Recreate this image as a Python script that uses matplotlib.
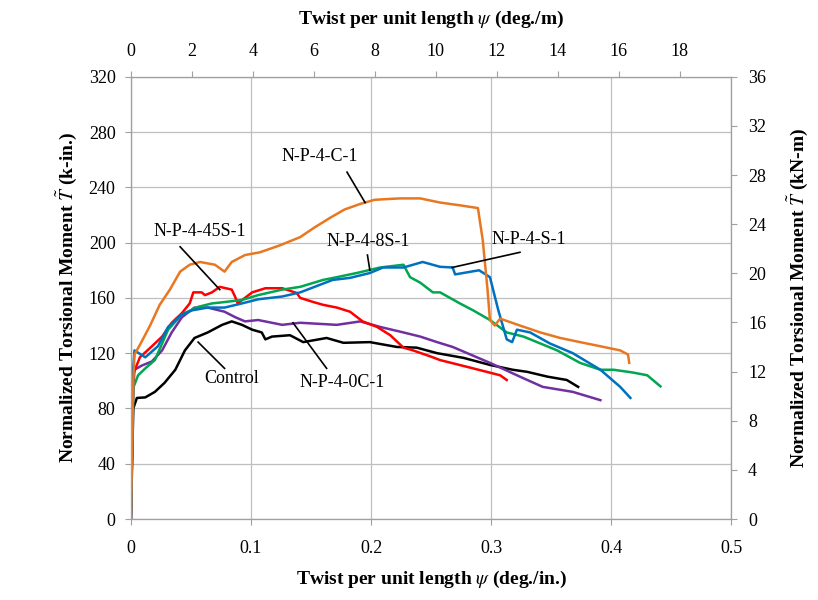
import matplotlib
matplotlib.use("Agg")
import matplotlib.pyplot as plt

# ─── Data (twist deg./in., normalized moment k-in.) ───────────────────────────

c1_x = [0, 0.002, 0.003, 0.0075, 0.016, 0.024, 0.0325, 0.041, 0.049, 0.0575, 0.07, 0.078,
        0.084, 0.095, 0.1075, 0.124, 0.141, 0.153, 0.166, 0.178, 0.191, 0.203, 0.224,
        0.241, 0.2575, 0.274, 0.289, 0.293, 0.297, 0.299, 0.303, 0.3075, 0.324, 0.341,
        0.3575, 0.374, 0.391, 0.4075, 0.414, 0.415]
c1_y = [0, 100, 119, 126, 140, 155, 166, 179, 184, 186, 184, 179,
        186, 191, 193, 198, 204, 211, 218, 224, 228, 231, 232,
        232, 229, 227, 225, 202, 166, 144, 140, 145, 140, 135,
        131, 128, 125, 122, 119, 113]

s1_x = [0, 0.002, 0.003, 0.012, 0.0225, 0.031, 0.0425, 0.051, 0.064, 0.078, 0.0925, 0.106,
        0.126, 0.141, 0.168, 0.1825, 0.199, 0.21, 0.227, 0.243, 0.2575, 0.268, 0.27,
        0.29, 0.299, 0.306, 0.313, 0.3175, 0.3215, 0.3325, 0.349, 0.368, 0.391, 0.4075,
        0.416]
s1_y = [0, 110, 122, 117, 125, 139, 148, 151, 153, 153, 156, 159,
        161, 164, 173, 174.5, 178, 182, 182, 186, 182.5, 182, 177,
        180, 175, 151, 130, 128, 137, 135, 127, 120, 108, 95.6,
        87.6]

s8_x = [0, 0.002, 0.006, 0.012, 0.02, 0.031, 0.0425, 0.056, 0.0675, 0.078, 0.0925, 0.106,
        0.126, 0.141, 0.16, 0.1715, 0.188, 0.2075, 0.227, 0.2325, 0.241, 0.2515, 0.2575,
        0.274, 0.285, 0.299, 0.313, 0.327, 0.341, 0.355, 0.374, 0.391, 0.402, 0.418,
        0.43, 0.441]
s8_y = [0, 95, 104, 109, 115, 137, 148, 153.5, 156, 157, 158.5, 162,
        166, 168, 173, 175, 178, 182, 184, 175, 171, 164, 164,
        156, 151, 144, 135, 132, 127, 122, 113, 108, 108, 106,
        104, 96]

s45_x = [0, 0.002, 0.0075, 0.0175, 0.026, 0.034, 0.0425, 0.049, 0.052, 0.059, 0.0617, 0.0675,
         0.074, 0.084, 0.0867, 0.089, 0.101, 0.112, 0.126, 0.138, 0.141, 0.152, 0.16,
         0.1715, 0.1825, 0.193, 0.205, 0.216, 0.227, 0.235, 0.2515, 0.2575, 0.285, 0.3075,
         0.313]
s45_y = [0, 105, 117, 125, 132, 142, 149, 156, 164, 164, 162, 164,
         168, 166, 161, 156, 164, 167, 167, 163.6, 160, 157, 155,
         153, 150, 143, 139, 133, 124, 122, 117, 115, 109, 104,
         100.6]

c0_x = [0, 0.002, 0.003, 0.009, 0.0175, 0.026, 0.034, 0.0425, 0.053, 0.064, 0.078, 0.087,
        0.095, 0.106, 0.126, 0.141, 0.1715, 0.191, 0.2075, 0.227, 0.241, 0.255, 0.268,
        0.299, 0.324, 0.343, 0.368, 0.391]
c0_y = [0, 95, 108, 111, 114, 122, 135, 146, 153, 153, 150, 146,
        143, 144, 140.5, 142, 140.5, 143, 139, 135, 132, 128, 124.5,
        113, 103, 95.6, 92, 86]

ctl_x = [0, 0.002, 0.005, 0.012, 0.02, 0.028, 0.037, 0.045, 0.053, 0.064, 0.076, 0.084,
         0.0925, 0.101, 0.109, 0.112, 0.1175, 0.1325, 0.1435, 0.163, 0.177, 0.199, 0.2215,
         0.238, 0.255, 0.277, 0.299, 0.318, 0.33, 0.347, 0.363, 0.3725]
ctl_y = [0, 80, 87.6, 88, 92, 98.5, 108, 122, 131, 135, 140.5, 143,
         140.5, 137, 135, 130, 132, 133, 128, 131, 127.5, 128, 124.5,
         124, 120, 116.6, 111.5, 108, 106.5, 103, 100.6, 95.6]

series = [
    (ctl_x, ctl_y, "#000000"),
    (c0_x,  c0_y,  "#7030A0"),
    (s45_x, s45_y, "#FF0000"),
    (s8_x,  s8_y,  "#00A650"),
    (s1_x,  s1_y,  "#0070C0"),
    (c1_x,  c1_y,  "#E87722"),
]

# label text, text position, leader start, leader end
labels = [
    ("N-P-4-C-1",   (0.1575, 262), (0.180, 251), (0.195, 229)),
    ("N-P-4-45S-1", (0.0575, 208), (0.041, 197), (0.074, 166)),
    ("N-P-4-8S-1",  (0.1975, 200.5), (0.197, 191), (0.199, 180)),
    ("N-P-4-S-1",   (0.331, 202),  (0.324, 193), (0.2675, 182)),
    ("Control",     (0.084, 102),  (0.078, 109), (0.056, 128)),
    ("N-P-4-0C-1",  (0.176, 98.5), (0.163, 109), (0.135, 142)),
]

IN_PER_M = 39.37

# ─── Figure ───────────────────────────────────────────────────────────────────

plt.rcParams["font.family"] = "Liberation Serif"
plt.rcParams["mathtext.fontset"] = "stix"

fig = plt.figure(figsize=(8.18, 6.0), dpi=100)
ax = fig.add_axes([0.160, 0.135, 0.734, 0.737])

for x, y, col in series:
    ax.plot(x, y, color=col, lw=1.8, zorder=3)

for txt, tpos, p0, p1 in labels:
    ax.text(tpos[0], tpos[1], txt, ha="center", va="center", fontsize=13, zorder=5)
    ax.plot([p0[0], p1[0]], [p0[1], p1[1]], color="black", lw=1.2, zorder=4)

ax.set_xlim(0, 0.5)
ax.set_ylim(0, 320)
ax.set_xticks([0, 0.1, 0.2, 0.3, 0.4, 0.5])
ax.set_xticklabels(["0", "0.1", "0.2", "0.3", "0.4", "0.5"])
ax.set_yticks(range(0, 321, 40))
ax.grid(True, color="#BFBFBF", lw=0.9, zorder=0)
ax.set_axisbelow(True)
for sp in ax.spines.values():
    sp.set_color("#A0A0A0")
ax.tick_params(axis="both", labelsize=13, color="#A0A0A0", length=4)
ax.tick_params(axis="x", pad=11)
ax.tick_params(axis="y", pad=7)
ax.set_xlabel(r"Twist per unit length $\psi$ (deg./in.)", fontsize=14,
              fontweight="bold", labelpad=9)
ax.set_ylabel(r"Normalized Torsional Moment $\tilde{T}$ (k-in.)", fontsize=14,
              fontweight="bold", labelpad=7)

# top axis in deg./m
axt = ax.twiny()
axt.set_xlim(0, 0.5 * IN_PER_M)
axt.set_xticks(range(0, 19, 2))
axt.tick_params(axis="x", labelsize=13, color="#A0A0A0", length=4, pad=8)
axt.set_xlabel(r"Twist per unit length $\psi$ (deg./m)", fontsize=14,
               fontweight="bold", labelpad=14)

# right axis in kN-m
axr = ax.twinx()
axr.set_ylim(0, 36)
axr.set_yticks(range(0, 37, 4))
axr.tick_params(axis="y", labelsize=13, color="#A0A0A0", length=4, pad=8)
axr.set_ylabel(r"Normalized Torsional Moment $\tilde{T}$ (kN-m)", fontsize=14,
               fontweight="bold", labelpad=14)

for a in (axt, axr):
    for sp in a.spines.values():
        sp.set_color("#A0A0A0")

fig.savefig("out.png", dpi=100)
